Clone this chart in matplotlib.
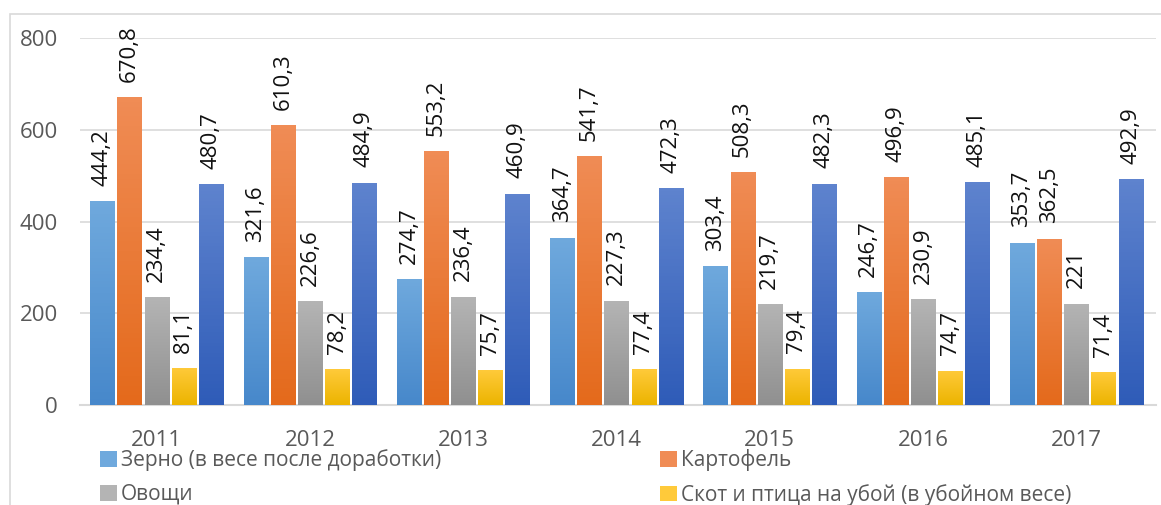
import matplotlib.pyplot as plt
import numpy as np
from matplotlib.colors import LinearSegmentedColormap
from matplotlib.patches import Rectangle

# Data
years = ["2011", "2012", "2013", "2014", "2015", "2016", "2017"]
grain = [444.2, 321.6, 274.7, 364.7, 303.4, 246.7, 353.7]
potato = [670.8, 610.3, 553.2, 541.7, 508.3, 496.9, 362.5]
vegetables = [234.4, 226.6, 236.4, 227.3, 219.7, 230.9, 221]
livestock = [81.1, 78.2, 75.7, 77.4, 79.4, 74.7, 71.4]
milk = [480.7, 484.9, 460.9, 472.3, 482.3, 485.1, 492.9]

series = [
    ("Зерно (в весе после доработки)", grain, ("#6FA9DD", "#4788CB")),
    ("Картофель", potato, ("#F08C55", "#E46A1C")),
    ("Овощи", vegetables, ("#B4B4B4", "#909090")),
    ("Скот и птица на убой (в убойном весе)", livestock, ("#FFCA3A", "#ECB400")),
    (None, milk, ("#5E83CE", "#2F5CB8")),
]

plt.rcParams['font.family'] = ['Open Sans', 'DejaVu Sans']

fig = plt.figure(figsize=(11.61, 5.05), dpi=100)
ax = fig.add_axes([80 / 1161, 1 - 405 / 505, 1076 / 1161, 367 / 505])

# outer frame
fig.patches.append(Rectangle((10 / 1161, -0.01), 1.1, 1 - 14 / 505 + 0.01,
                             transform=fig.transFigure, fill=False,
                             edgecolor="#D9D9D9", linewidth=1.2))

x = np.arange(len(years))
step = 0.177
width = 0.157
handles = {}
for i, (name, vals, (top, bottom)) in enumerate(series):
    pos = x + (i - 2) * step
    bars = ax.bar(pos, vals, width, color=bottom, zorder=3)
    cmap = LinearSegmentedColormap.from_list("g", [bottom, top])
    for b in bars:
        x0, y0 = b.get_x(), b.get_y()
        im = ax.imshow(np.linspace(0, 1, 64).reshape(-1, 1), cmap=cmap,
                       origin="lower", aspect="auto", zorder=3,
                       extent=[x0, x0 + b.get_width(), y0, y0 + b.get_height()])
        im.set_clip_path(b)
    for p, v in zip(pos, vals):
        lbl = ("%g" % v).replace(".", ",")
        ax.annotate(lbl, (p, v), xytext=(0, 11), textcoords="offset points",
                    rotation=90, ha="center", va="bottom", fontsize=16,
                    color="#111111", annotation_clip=False)
    if name:
        handles[name] = Rectangle((0, 0), 1, 1, facecolor=top)

ax.set_xlim(-0.5, len(years) - 0.5 + 0.02)
ax.set_ylim(0, 800)
ax.set_yticks([0, 200, 400, 600, 800])
ax.set_xticks(x)
ax.set_xticklabels(years)
ax.tick_params(axis="both", length=0, labelsize=16, labelcolor="#595959")
ax.tick_params(axis="x", pad=18)
ax.tick_params(axis="y", pad=16)
ax.grid(axis="y", color="#D9D9D9", linewidth=1.2, zorder=0)
for s in ["top", "right", "left"]:
    ax.spines[s].set_visible(False)
ax.spines["bottom"].set_color("#D9D9D9")
ax.spines["bottom"].set_linewidth(1.5)

# legend is filled column by column: grain, vegetables | potato, livestock
order = [series[0][0], series[2][0], series[1][0], series[3][0]]
fig.legend([handles[n] for n in order], order, ncol=2,
           loc="upper left", bbox_to_anchor=(92 / 1161, 1 - 441 / 505),
           frameon=False, fontsize=15, handlelength=0.8, handleheight=0.8,
           handletextpad=0.2, columnspacing=10.5, labelspacing=0.6,
           labelcolor="#595959", borderaxespad=0)

fig.savefig("out.png", dpi=100)
